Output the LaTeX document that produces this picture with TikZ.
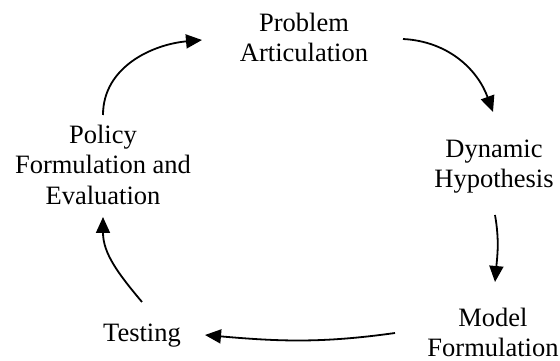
\documentclass[tikz,border=0pt]{standalone}
\usepackage{fontspec}
\setmainfont{Liberation Serif}
\usetikzlibrary{arrows.meta}
\begin{document}
\begin{tikzpicture}[x=1pt,y=1pt,
  lbl/.style={align=center,inner sep=0pt,anchor=north,font=\fontsize{26.5}{30.5}\selectfont},
  flow/.style={line width=1.8pt,-{Triangle[length=16pt,width=14pt]}}]
\useasboundingbox (0,0) rectangle (560,361);
\node[lbl] (prob) at (304,348.5) {Problem\\Articulation};
\node[lbl] (dyn) at (494,221.5) {Dynamic\\Hypothesis};
\node[lbl] (mod) at (493,53.5) {Model\\Formulation};
\node[lbl] (test) at (142,37.5) {Testing};
\node[lbl] (pol) at (103,236.5) {Policy\\Formulation and\\Evaluation};
\coordinate (s1) at (103,246); \coordinate (e1) at (202,321);
\coordinate (s2) at (403,322); \coordinate (e2) at (493,249);
\coordinate (s3) at (495,146); \coordinate (e3) at (495,79);
\coordinate (s4) at (395,28); \coordinate (e4) at (205,26);
\coordinate (s5) at (142,59); \coordinate (e5) at (103,144);
\draw[flow] (s1) to[out=90,in=185] (e1);
\draw[flow] (s2) to[out=-3,in=110] (e2);
\draw[flow] (s3) to[out=-80,in=85] (e3);
\draw[flow] (s4) to[out=188,in=-5] (e4);
\draw[flow] (s5) to[out=130,in=-90] (e5);
\end{tikzpicture}
\end{document}
